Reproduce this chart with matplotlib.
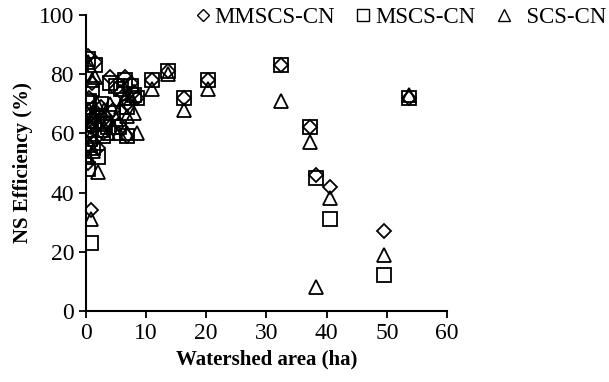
import matplotlib
matplotlib.use("Agg")
import matplotlib.pyplot as plt

plt.rcParams['font.family'] = ['Liberation Serif', 'DejaVu Serif']

# Watershed area (ha) and Nash-Sutcliffe efficiency (%) for the three methods
area = [0.3, 1.5, 0.5, 1.0, 0.4, 0.7, 1.2, 2.0, 0.3, 0.9,
        0.6, 1.8, 2.5, 0.8, 1.3, 3.0, 4.0, 3.6, 4.5, 5.0,
        5.5, 6.5, 6.8, 6.9, 7.5, 8.0, 8.5, 2.8, 5.8, 11.0,
        13.7, 16.3, 20.3, 32.5, 37.3, 38.3, 40.5, 49.5, 53.7]
mmscs = [86, 84, 72, 77, 64, 60, 57, 55, 50, 34,
         66, 67, 69, 62, 65, 65, 79, 63, 68, 75,
         63, 79, 70, 59, 77, 74, 72, 60, 74, 78,
         81, 72, 78, 83, 62, 46, 42, 27, 72]
mscs = [85, 83, 71, 75, 63, 58, 55, 52, 48, 23,
        68, 66, 70, 61, 64, 63, 77, 62, 67, 76,
        62, 78, 69, 59, 76, 73, 72, 59, 75, 78,
        81, 72, 78, 83, 62, 45, 31, 12, 72]
scs = [84, 79, 68, 78, 61, 56, 54, 47, 52, 31,
       63, 70, 64, 59, 66, 68, 70, 60, 62, 65,
       60, 72, 66, 60, 72, 67, 60, 61, 69, 75,
       80, 68, 75, 71, 57, 8, 38, 19, 73]

fig = plt.figure(figsize=(6.09, 3.82), dpi=100)
ax = fig.add_axes([0.141, 0.186, 0.593, 0.775])

kw = dict(linestyle='none', markerfacecolor='none', markeredgecolor='black', markeredgewidth=1.3)
ax.plot(area, scs, marker='^', markersize=9.5, label='  SCS-CN', **kw)
ax.plot(area, mscs, marker='s', markersize=9.5, label='MSCS-CN', **kw)
ax.plot(area, mmscs, marker='D', markersize=7.2, label='MMSCS-CN', **kw)

ax.set_xlim(0, 60)
ax.set_ylim(0, 100)
ax.set_xticks(range(0, 61, 10))
ax.set_yticks(range(0, 101, 20))
ax.tick_params(direction='out', length=5, width=1.3, labelsize=17)
for s in ['top', 'right']:
    ax.spines[s].set_visible(False)
for s in ['left', 'bottom']:
    ax.spines[s].set_linewidth(1.5)

ax.set_xlabel('Watershed area (ha)', fontsize=15, fontweight='bold')
ax.set_ylabel('NS Efficiency (%)', fontsize=15, fontweight='bold')

h, l = ax.get_legend_handles_labels()
leg = fig.legend(h[::-1], l[::-1], ncol=3, loc='upper right', bbox_to_anchor=(1.03, 1.035),
                 frameon=False, fontsize=16.5, markerscale=0.85, handlelength=0.7,
                 handletextpad=0.15, columnspacing=0.9)
for hd in leg.legend_handles:
    hd.set_markeredgewidth(1.0)

fig.savefig('out.png', dpi=100)
